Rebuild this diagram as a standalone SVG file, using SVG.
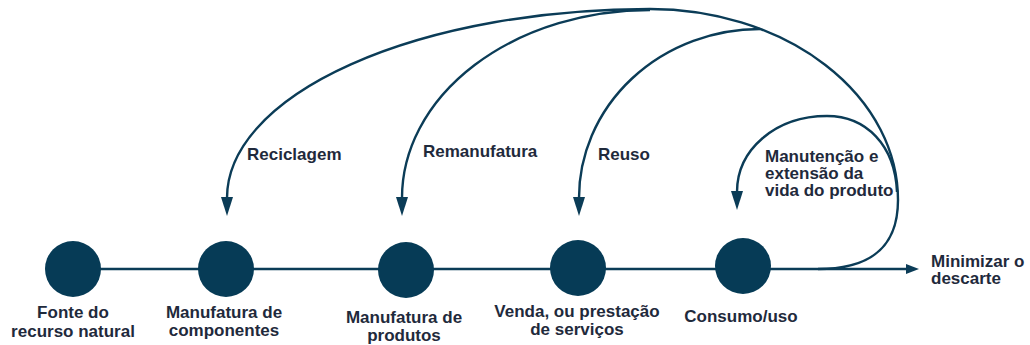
<svg xmlns="http://www.w3.org/2000/svg" width="1030" height="345" viewBox="0 0 1030 345">
<defs>
<style>
.t{font-family:"Liberation Sans",Arial,sans-serif;font-weight:bold;font-size:17px;fill:#1f2a3c}
.c{text-anchor:middle}
.n{fill:#063b56}
.ln{fill:none;stroke:#0b3c57;stroke-width:2.4}
.ah{fill:#0b3c57}
</style>
</defs>
<rect width="1030" height="345" fill="#ffffff"/>
<g id="connectors">
<path class="ln" d="M73,269 L908,269"/>
<polygon class="ah" points="919,269 906,264 906,274"/>
<path class="ln" d="M818,269 C870,269 898,248 898,200 A248,191 0 0 0 650,9 A423,189 0 0 0 227,198"/>
<polygon class="ah" points="221,197 233,197 227,216"/>
<path class="ln" d="M402,198 A248,188 0 0 1 650,10"/>
<polygon class="ah" points="396,197 408,197 402,216"/>
<path class="ln" d="M579,198 A181,169 0 0 1 760,29"/>
<polygon class="ah" points="573,197 585,197 579,216"/>
<path class="ln" d="M897,192 C895,145 866,116 827,116 C775,116 737,150 737,192"/>
<polygon class="ah" points="731,191 743,191 737,210"/>
</g>
<g id="n1"><circle class="n" cx="73" cy="269" r="28"/><text class="t c" x="73" y="318">Fonte do</text><text class="t c" x="73" y="337">recurso natural</text></g>
<g id="n2"><circle class="n" cx="226" cy="269" r="28"/><text class="t c" x="224" y="318">Manufatura de</text><text class="t c" x="224" y="336">componentes</text></g>
<g id="n3"><circle class="n" cx="406" cy="270" r="28"/><text class="t c" x="404" y="323">Manufatura de</text><text class="t c" x="404" y="341">produtos</text></g>
<g id="n4"><circle class="n" cx="578" cy="268" r="28"/><text class="t c" x="577" y="317">Venda, ou prestação</text><text class="t c" x="577" y="335">de serviços</text></g>
<g id="n5"><circle class="n" cx="743" cy="266" r="28"/><text class="t c" x="741" y="322">Consumo/uso</text></g>
<g id="end"><text class="t" x="931" y="267">Minimizar o</text><text class="t" x="931" y="284">descarte</text></g>
<g id="labels">
<text class="t" x="247" y="160">Reciclagem</text>
<text class="t" x="423" y="157">Remanufatura</text>
<text class="t" x="598" y="160">Reuso</text>
<text class="t" x="765" y="162">Manutenção e</text>
<text class="t" x="765" y="179">extensão da</text>
<text class="t" x="765" y="196">vida do produto</text>
</g>
</svg>
